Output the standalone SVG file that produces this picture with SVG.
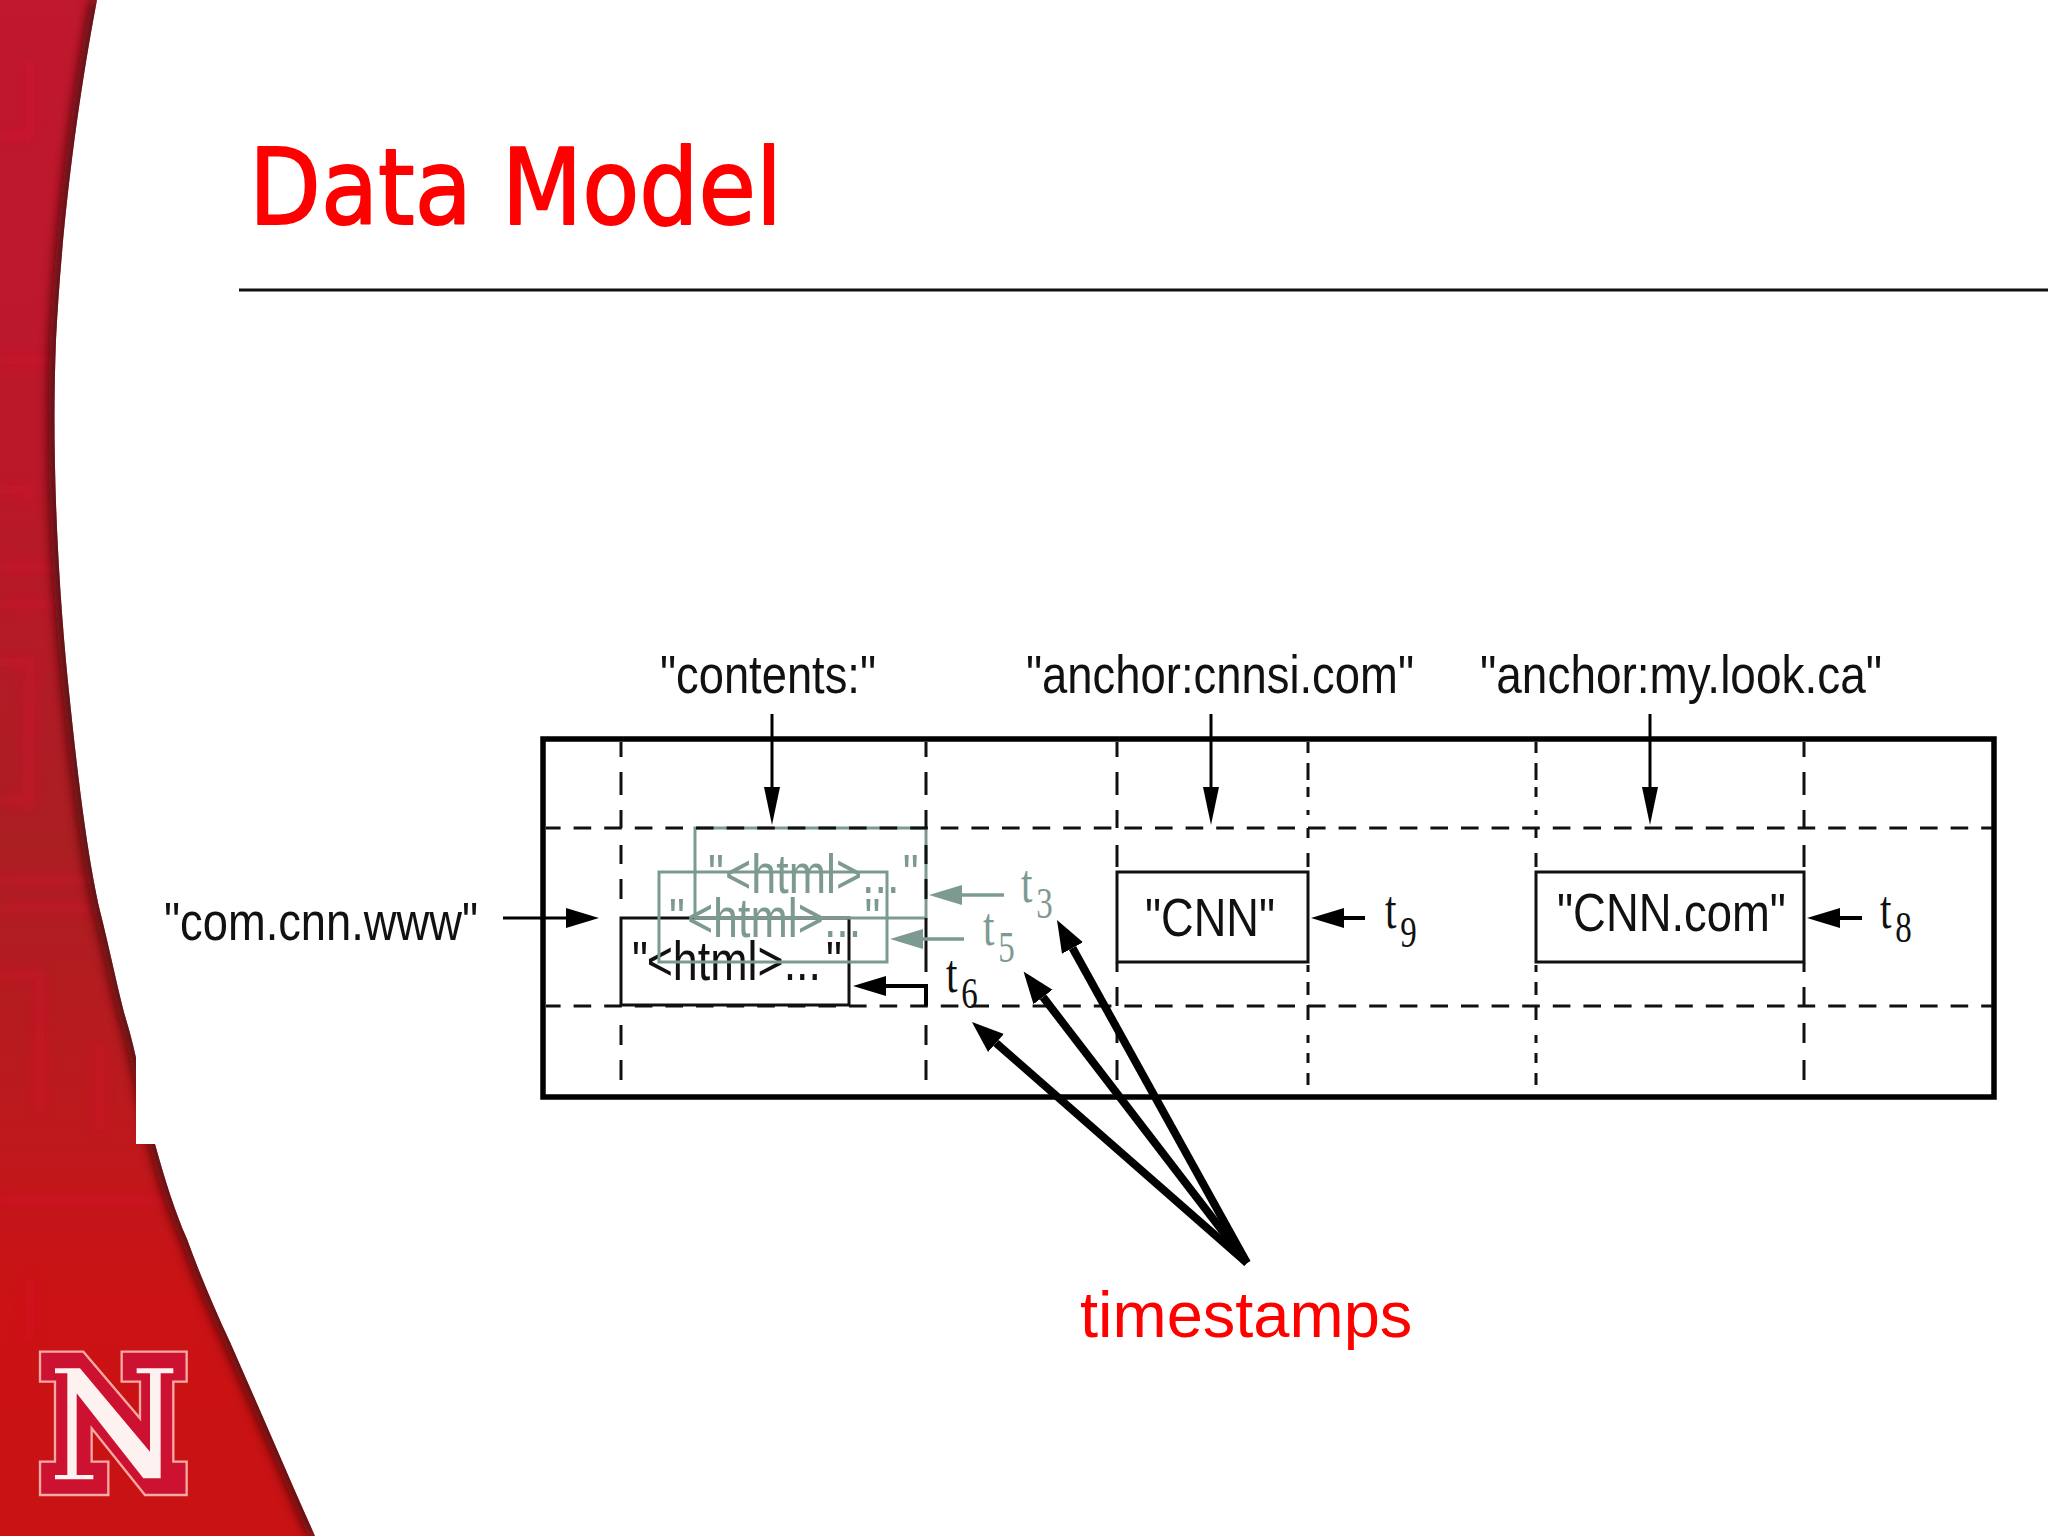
<svg xmlns="http://www.w3.org/2000/svg" width="2048" height="1536" viewBox="0 0 2048 1536">
<style>
.lbl{font-family:"Liberation Sans",Arial,sans-serif;font-size:54px;fill:#111}
.html{font-family:"Liberation Sans",Arial,sans-serif;font-size:55px}
.ts{font-family:"Liberation Serif","Times New Roman",serif;font-size:55px}
.sub{font-size:44px}
.blk{fill:#111}
.gry{fill:#7d9a92}
.box{fill:none;stroke:#111;stroke-width:3}
.gbox{fill:none;stroke:#7d9a92;stroke-width:3}
.thin{fill:none;stroke:#000;stroke-width:3}
.gline{fill:none;stroke:#7d9a92;stroke-width:3.5}
.thick{fill:none;stroke:#000;stroke-width:8}
.grid{fill:none;stroke:#111;stroke-width:3}
</style>
<defs>
<linearGradient id="red" x1="0" y1="0" x2="0" y2="1">
<stop offset="0" stop-color="#c0182e"/>
<stop offset=".3" stop-color="#bb182a"/>
<stop offset=".55" stop-color="#ab1e22"/>
<stop offset=".72" stop-color="#bc1a1e"/>
<stop offset=".85" stop-color="#cb1214"/>
<stop offset="1" stop-color="#c81214"/>
</linearGradient>
<clipPath id="swooshClip"><path d="M97 0C78 100 62 220 56 340C52 440 56 560 68 682C76 760 86 850 100 911C110 950 120 1000 128 1026C138 1060 146 1110 155 1144C165 1180 175 1212 187 1239C200 1275 215 1310 230 1342C260 1410 290 1480 315 1536L0 1536L0 0Z"/></clipPath>
<filter id="b8" x="-20%" y="-5%" width="140%" height="110%"><feGaussianBlur stdDeviation="6"/></filter>
<filter id="b3" x="-20%" y="-5%" width="140%" height="110%"><feGaussianBlur stdDeviation="6"/></filter>
<marker id="hV" markerUnits="userSpaceOnUse" markerWidth="38" markerHeight="18" refX="0" refY="9" orient="auto"><path d="M0 1L38 9L0 17Z" fill="#000"/></marker>
<marker id="hH" markerUnits="userSpaceOnUse" markerWidth="33" markerHeight="20" refX="0" refY="10" orient="auto"><path d="M0 0L33 10L0 20Z" fill="#000"/></marker>
<marker id="hG" markerUnits="userSpaceOnUse" markerWidth="33" markerHeight="22" refX="0" refY="11" orient="auto"><path d="M0 1L33 11L0 21Z" fill="#7d9a92"/></marker>
<marker id="hT" markerUnits="userSpaceOnUse" markerWidth="32" markerHeight="26" refX="0" refY="13" orient="auto"><path d="M0 1L32 13L0 25Z" fill="#000"/></marker>
</defs>

<rect id="background" width="2048" height="1536" fill="#fff"/>
<g id="swoosh">
<g clip-path="url(#swooshClip)">
<rect width="340" height="1536" fill="url(#red)"/>
<g fill="none" stroke="#e01030" stroke-width="9" opacity=".4" filter="url(#b3)">
<path d="M0 135H30M30 60V135M0 360H60M0 490H28V500M0 567H62M0 604H62M0 662H30V800H0M28 680V810M0 880H130M0 908H130M0 975H40V1110M100 1045V1130"/>
<path d="M0 1200H180M30 1280V1340"/>
</g>
<path d="M97 0C78 100 62 220 56 340C52 440 56 560 68 682C76 760 86 850 100 911C110 950 120 1000 128 1026C138 1060 146 1110 155 1144C165 1180 175 1212 187 1239C200 1275 215 1310 230 1342C260 1410 290 1480 315 1536" fill="none" stroke="#4a0c0c" stroke-width="12" filter="url(#b8)"/>
</g>
<rect x="136" y="1045" width="70" height="99" fill="#fff"/>
</g>
<g id="logo" transform="translate(30 1340) scale(.3333)">
<path d="M30 35H160L330 235V125H275V35H470V125H430V365H470V465H345L185 265V365H235V465H30V365H75V125H30Z" fill="#cc1230" stroke="#f7a9a3" stroke-width="7"/>
<path d="M75 85H150L360 335V100H320V85H430V100H392V415H340L140 160V405H190V418H75V405H112V100H75Z" fill="#fdf2f0"/>
</g>

<g id="title">
<text x="249" y="224" font-family="'Comic Sans MS','DejaVu Sans',sans-serif" font-size="106" fill="#f00" stroke="#f00" stroke-width="2" stroke-linejoin="round" textLength="533" lengthAdjust="spacingAndGlyphs">Data Model</text>
<path d="M239 290H2048" stroke="#111" stroke-width="3"/>
</g>

<g id="cell-t6">
<rect class="box" x="621" y="918" width="228" height="87"/>
<text class="html blk" transform="translate(632 980) scale(.815 1)"><tspan x="0">"</tspan><tspan x="18">&lt;html&gt;...</tspan><tspan x="238">"</tspan></text>
</g>
<g id="cell-t5">
<rect class="gbox" x="659" y="872" width="228" height="90"/>
<text class="html gry" transform="translate(669 937) scale(.815 1)"><tspan x="0">"</tspan><tspan x="22">&lt;html&gt;...</tspan><tspan x="240">"</tspan></text>
</g>
<g id="cell-t3">
<rect class="gbox" x="695" y="828" width="231" height="90"/>
<text class="html gry" transform="translate(708 893) scale(.815 1)"><tspan x="0">"</tspan><tspan x="21">&lt;html&gt;...</tspan><tspan x="239">"</tspan></text>
</g>

<g id="table">
<rect x="543" y="739" width="1451" height="358" fill="none" stroke="#000" stroke-width="5.5"/>
<path class="grid" stroke-dasharray="17.6 13" stroke-dashoffset="3" d="M546 828H1992M546 1006H1992"/>
<path class="grid" d="M621 742V757M621 772V795M621 810V828M621 845V864M621 879V899M621 1025V1045M621 1060V1080"/>
<path class="grid" d="M926 742V757M926 772V795M926 810V828M926 845V864M926 879V899M926 918V972M926 985V1006M926 1025V1045M926 1060V1080"/>
<path class="grid" d="M1117 742V757M1117 772V795M1117 810V828M1117 845V867M1117 963V972M1117 987V1006M1117 1023V1043M1117 1060V1080"/>
<path class="grid" d="M1804 742V757M1804 772V795M1804 810V828M1804 845V867M1804 963V972M1804 987V1006M1804 1023V1043M1804 1060V1080"/>
<path class="grid" d="M1308 742V753M1308 763V780M1308 787V797M1308 810V815M1308 828V838M1308 853V867M1308 965V972M1308 982V995M1308 1005V1020M1308 1035V1043M1308 1053V1063M1308 1073V1085"/>
<path class="grid" d="M1536 742V753M1536 763V780M1536 787V797M1536 810V815M1536 828V838M1536 853V867M1536 965V972M1536 982V995M1536 1005V1020M1536 1035V1043M1536 1053V1063M1536 1073V1085"/>
</g>

<g id="cell-cnn">
<rect class="box" x="1117" y="872" width="191" height="90"/>
<text class="lbl" x="1145" y="936" textLength="130" lengthAdjust="spacingAndGlyphs">"CNN"</text>
</g>
<g id="cell-cnncom">
<rect class="box" x="1536" y="872" width="268" height="90"/>
<text class="lbl" x="1557" y="931" textLength="229" lengthAdjust="spacingAndGlyphs">"CNN.com"</text>
</g>

<g id="labels">
<text id="col-contents" class="lbl" x="660" y="693" textLength="216" lengthAdjust="spacingAndGlyphs">"contents:"</text>
<text id="col-cnnsi" class="lbl" x="1026" y="693" textLength="388" lengthAdjust="spacingAndGlyphs">"anchor:cnnsi.com"</text>
<text id="col-mylook" class="lbl" x="1480" y="693" textLength="402" lengthAdjust="spacingAndGlyphs">"anchor:my.look.ca"</text>
<text id="row-key" class="lbl" x="164" y="940" textLength="314" lengthAdjust="spacingAndGlyphs">"com.cnn.www"</text>
<text id="timestamps" x="1080" y="1337" font-family="'Liberation Sans',Arial,sans-serif" font-size="65" fill="#f00">timestamps</text>
</g>

<g id="ts-labels">
<text class="ts gry" transform="translate(1021 902) scale(.75 1)">t<tspan class="sub" dx="5" dy="16">3</tspan></text>
<text class="ts gry" transform="translate(983 945) scale(.75 1)">t<tspan class="sub" dx="5" dy="17">5</tspan></text>
<text class="ts blk" transform="translate(946 992) scale(.75 1)">t<tspan class="sub" dx="5" dy="16">6</tspan></text>
<text class="ts blk" transform="translate(1385 928) scale(.75 1)">t<tspan class="sub" dx="5" dy="19">9</tspan></text>
<text class="ts blk" transform="translate(1880 928) scale(.75 1)">t<tspan class="sub" dx="5" dy="14">8</tspan></text>
</g>

<g id="connectors">
<path class="thin" marker-end="url(#hV)" d="M772 714V787"/>
<path class="thin" marker-end="url(#hV)" d="M1211 714V787"/>
<path class="thin" marker-end="url(#hV)" d="M1650 714V787"/>
<path class="thin" marker-end="url(#hH)" d="M503 918H566"/>
<path class="gline" marker-end="url(#hG)" d="M1004 895H962"/>
<path class="gline" marker-end="url(#hG)" d="M964 939H923"/>
<path class="thin" style="stroke-width:4" marker-end="url(#hH)" d="M926 1006V986H886"/>
<path class="thin" style="stroke-width:4" marker-end="url(#hH)" d="M1365 918H1344"/>
<path class="thin" style="stroke-width:4" marker-end="url(#hH)" d="M1862 918H1840"/>
<path class="thick" marker-end="url(#hT)" d="M1247 1263L1072.5 948"/>
<path class="thick" marker-end="url(#hT)" d="M1247 1263L1043 997"/>
<path class="thick" marker-end="url(#hT)" d="M1247 1263L996 1043"/>
</g>
</svg>
